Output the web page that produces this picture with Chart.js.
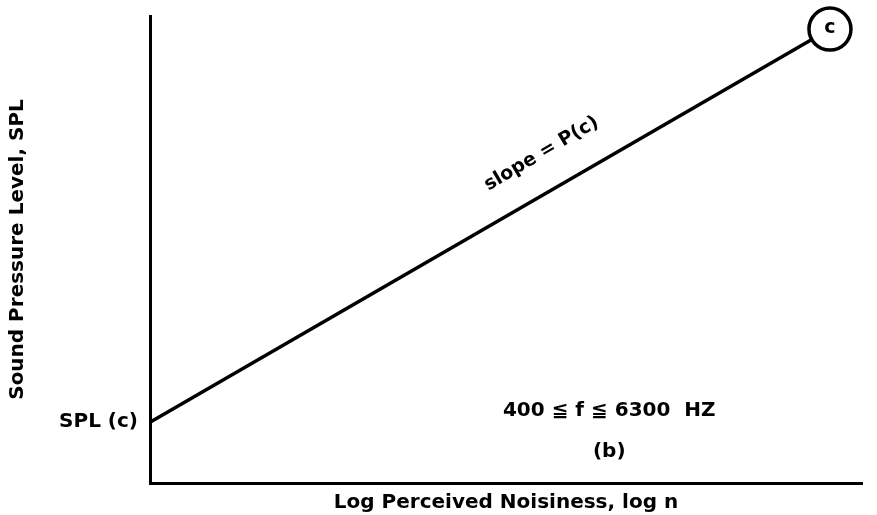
<!DOCTYPE html>
<html>
<head>
<meta charset="utf-8">
<script src="https://cdn.jsdelivr.net/npm/chart.js@4/dist/chart.umd.min.js"></script>
<style>
  html, body { margin: 0; padding: 0; background: #fff; }
  #wrap { width: 877px; height: 515px; }
</style>
</head>
<body>
<div id="wrap"><canvas id="chart"></canvas></div>
<script>
// log n (arbitrary units) and SPL (arbitrary units)
const lineX = [0, 9.55];
const lineY = [1.3, 9.72];
const splC = 1.3;
const markerX = [9.55];
const markerY = [9.72];
const markerLabel = 'c';

const FONT = '"DejaVu Sans", sans-serif';

// extra text labels, placed in data units
const notes = [
  { text: 'slope = P(c)', x: 5.5, y: 7.05, rotate: -30.5, size: 19 },
  { text: '400 \u2266 f \u2266 6300  HZ', x: 6.45, y: 1.55, rotate: 0, size: 20 },
  { text: '(b)', x: 6.45, y: 0.66, rotate: 0, size: 20 },
];

const notesPlugin = {
  id: 'notes',
  afterDatasetsDraw(chart) {
    const { ctx, scales } = chart;
    ctx.save();
    ctx.fillStyle = '#000';
    ctx.textAlign = 'center';
    ctx.textBaseline = 'middle';
    notes.forEach(n => {
      ctx.save();
      ctx.font = 'bold ' + n.size + 'px ' + FONT;
      ctx.translate(scales.x.getPixelForValue(n.x), scales.y.getPixelForValue(n.y));
      ctx.rotate(n.rotate * Math.PI / 180);
      ctx.fillText(n.text, 0, 0);
      ctx.restore();
    });
    // letter inside the circle marker
    const pt = chart.getDatasetMeta(0).data[0];
    ctx.font = 'bold 19px ' + FONT;
    ctx.fillText(markerLabel, pt.x, pt.y - 1);
    ctx.restore();
  }
};

new Chart(document.getElementById('chart'), {
  type: 'scatter',
  data: {
    datasets: [
      {
        data: markerX.map((x, i) => ({ x, y: markerY[i] })),
        pointRadius: 21,
        pointBackgroundColor: '#fff',
        pointBorderColor: '#000',
        pointBorderWidth: 3.5,
        clip: false,
      },
      {
        data: lineX.map((x, i) => ({ x, y: lineY[i] })),
        showLine: true,
        borderColor: '#000',
        borderWidth: 3.5,
        pointRadius: 0,
        clip: false,
      },
    ],
  },
  options: {
    responsive: true,
    maintainAspectRatio: false,
    animation: false,
    layout: { autoPadding: false, padding: { top: 15, right: 15, left: 0, bottom: 0 } },
    plugins: { legend: { display: false }, tooltip: { enabled: false } },
    scales: {
      x: {
        type: 'linear',
        min: 0,
        max: 10,
        grid: { display: false },
        border: { display: true, color: '#000', width: 3 },
        ticks: { display: false },
        afterFit: s => { s.height = 32; },
        title: {
          display: true,
          text: 'Log Perceived Noisiness, log n',
          color: '#000',
          font: { family: FONT, size: 20, weight: 'bold' },
          padding: { top: 2, bottom: 0 },
        },
      },
      y: {
        type: 'linear',
        min: 0,
        max: 10,
        grid: { display: false },
        border: { display: true, color: '#000', width: 3 },
        afterBuildTicks: s => { s.ticks = [{ value: splC }]; },
        afterFit: s => { s.width = 150; },
        ticks: {
          color: '#000',
          padding: 4,
          font: { family: FONT, size: 20, weight: 'bold' },
          callback: () => 'SPL (c)',
        },
        title: {
          display: true,
          text: 'Sound Pressure Level, SPL',
          color: '#000',
          font: { family: FONT, size: 20, weight: 'bold' },
          padding: { top: 6, bottom: 0 },
        },
      },
    },
  },
  plugins: [notesPlugin],
});
</script>
</body>
</html>
